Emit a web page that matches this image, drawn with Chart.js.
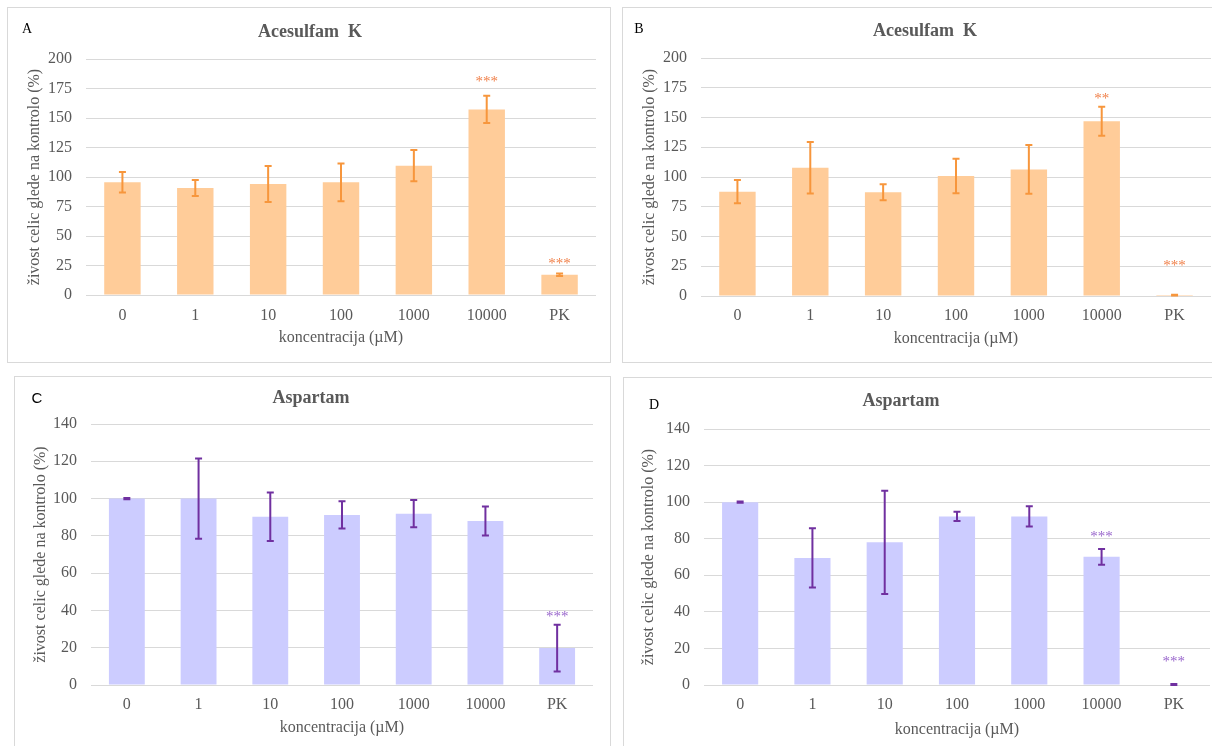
<!DOCTYPE html>
<html>
<head>
<meta charset="utf-8">
<script src="https://cdn.jsdelivr.net/npm/chart.js@4"></script>
<style>
  html, body { margin: 0; padding: 0; background: #fff; overflow: hidden; }
  body { width: 1212px; height: 746px; position: relative; }
  .panel { position: absolute; box-sizing: border-box; border: 1px solid #d9d9d9; background: #fff; }
  .panel canvas { position: absolute; left: 0; top: 0; }
</style>
</head>
<body>
<div class="panel" style="left:7px;top:7px;width:604px;height:356px"><canvas id="chartA" width="602" height="354"></canvas></div>
<div class="panel" style="left:622px;top:7px;width:594px;height:356px"><canvas id="chartB" width="592" height="354"></canvas></div>
<div class="panel" style="left:14px;top:376px;width:597px;height:372px"><canvas id="chartC" width="595" height="370"></canvas></div>
<div class="panel" style="left:623px;top:377px;width:592px;height:372px"><canvas id="chartD" width="590" height="370"></canvas></div>
<script>
// concentrations on the x axis
const categories = ['0', '1', '10', '100', '1000', '10000', 'PK'];

// Acesulfam K, panel A
const valuesA = [95.5, 90.7, 94.1, 95.5, 109.6, 157.3, 17.2];
const errorsA = [8.7, 6.8, 15.2, 16.0, 13.3, 11.5, 1.1];
const starsA = ['', '', '', '', '', '***', '***'];
const starPosA = [null, null, null, null, null, 183, 29];

// Acesulfam K, panel B
const valuesB = [87.7, 107.8, 87.2, 100.8, 106.4, 146.9, 0.8];
const errorsB = [9.8, 21.6, 6.7, 14.5, 20.5, 12.2, 0.3];
const starsB = ['', '', '', '', '', '**', '***'];
const starPosB = [null, null, null, null, null, 168, 28];

// Aspartam, panel C
const valuesC = [100, 100, 90.3, 91.2, 91.9, 88.0, 19.8];
const errorsC = [0.3, 21.5, 13.0, 7.3, 7.3, 7.8, 12.5];
const starsC = ['', '', '', '', '', '', '***'];
const starPosC = [null, null, null, null, null, null, 38];

// Aspartam, panel D
const valuesD = [100, 69.5, 78.0, 92.2, 92.2, 70.1, 0.3];
const errorsD = [0.3, 16.2, 28.2, 2.5, 5.5, 4.3, 0.3];
const starsD = ['', '', '', '', '', '***', '***'];
const starPosD = [null, null, null, null, null, 82.7, 14.2];

const yTicksAcesulfam = { max: 200, step: 25 };
const yTicksAspartam = { max: 140, step: 20 };

const orange = { bar: '#FFCC99', err: '#F7963C', star: '#F0804A' };
const purple = { bar: '#CCCCFF', err: '#7030A0', star: '#9966CC' };

const serif = "'Liberation Serif', 'Times New Roman', serif";
const grey = '#595959';

function makePanel(id, values, errors, stars, starPos, yTicks, colors, g) {
    const ctx = document.getElementById(id).getContext('2d');

    const panelText = {
        id: 'panelText',
        afterDraw(chart) {
            const c = chart.ctx;
            c.save();
            c.textAlign = 'center';
            c.textBaseline = 'middle';
            c.fillStyle = '#000';
            c.font = g.letterFont;
            c.fillText(g.letter, g.letterX, g.letterY);
            c.fillStyle = grey;
            c.font = 'bold 18px ' + serif;
            c.fillText(g.title, g.titleX, g.titleY);
            c.restore();
        }
    };

    const errorBars = {
        id: 'errorBars',
        afterDatasetsDraw(chart) {
            const c = chart.ctx;
            const y = chart.scales.y;
            const meta = chart.getDatasetMeta(0);
            c.save();
            c.strokeStyle = colors.err;
            c.lineWidth = 2;
            meta.data.forEach((bar, i) => {
                const top = y.getPixelForValue(values[i] + errors[i]);
                const bot = y.getPixelForValue(Math.max(values[i] - errors[i], 0));
                c.beginPath();
                c.moveTo(bar.x, top); c.lineTo(bar.x, bot);
                c.moveTo(bar.x - 3.5, top); c.lineTo(bar.x + 3.5, top);
                c.moveTo(bar.x - 3.5, bot); c.lineTo(bar.x + 3.5, bot);
                c.stroke();
            });
            // significance marks
            c.fillStyle = colors.star;
            c.font = '15px ' + serif;
            c.textAlign = 'center';
            c.textBaseline = 'middle';
            meta.data.forEach((bar, i) => {
                if (stars[i]) c.fillText(stars[i], bar.x, y.getPixelForValue(starPos[i]) + 3);
            });
            c.restore();
        }
    };

    return new Chart(ctx, {
        type: 'bar',
        data: {
            labels: categories,
            datasets: [{
                data: values,
                backgroundColor: colors.bar,
                borderWidth: 0,
                categoryPercentage: 1,
                barPercentage: 0.5
            }]
        },
        options: {
            responsive: false,
            animation: false,
            layout: { padding: { left: 0, right: g.right, top: g.top, bottom: 0 } },
            plugins: {
                legend: { display: false },
                title: { display: false },
                tooltip: { enabled: false }
            },
            scales: {
                x: {
                    grid: { display: false },
                    border: { display: false },
                    ticks: { color: grey, font: { family: serif, size: 16 }, padding: g.xTickPad },
                    title: {
                        display: true,
                        text: 'koncentracija (µM)',
                        color: grey,
                        font: { family: serif, size: 16 },
                        padding: { top: 0, bottom: g.xTitlePad }
                    },
                    afterFit: (scale) => { scale.height = g.xHeight; }
                },
                y: {
                    min: 0,
                    max: yTicks.max,
                    grid: { color: '#d9d9d9', lineWidth: 1, drawTicks: false },
                    border: { display: false },
                    ticks: { stepSize: yTicks.step, color: grey, font: { family: serif, size: 16 }, padding: 14 },
                    title: {
                        display: true,
                        text: 'živost celic glede na kontrolo (%)',
                        color: grey,
                        font: { family: serif, size: 16 },
                        padding: { top: g.yTitlePad, bottom: 0 }
                    },
                    afterFit: (scale) => { scale.width = g.yWidth; }
                }
            }
        },
        plugins: [errorBars, panelText]
    });
}

makePanel('chartA', valuesA, errorsA, starsA, starPosA, yTicksAcesulfam, orange, {
    letter: 'A', letterX: 19, letterY: 21, letterFont: '14px ' + serif,
    title: 'Acesulfam  K', titleX: 302, titleY: 24,
    top: 51, right: 14, yWidth: 78, yTitlePad: 17,
    xHeight: 67, xTickPad: 3, xTitlePad: 15
});

makePanel('chartB', valuesB, errorsB, starsB, starPosB, yTicksAcesulfam, orange, {
    letter: 'B', letterX: 16, letterY: 21, letterFont: '14px ' + serif,
    title: 'Acesulfam  K', titleX: 302, titleY: 23,
    top: 50, right: 4, yWidth: 78, yTitlePad: 17,
    xHeight: 66, xTickPad: 2, xTitlePad: 14
});

makePanel('chartC', valuesC, errorsC, starsC, starPosC, yTicksAspartam, purple, {
    letter: 'C', letterX: 22, letterY: 22, letterFont: '15px "Liberation Sans", Arial, sans-serif',
    title: 'Aspartam', titleX: 296, titleY: 21,
    top: 47, right: 17, yWidth: 76, yTitlePad: 16,
    xHeight: 62, xTickPad: 2, xTitlePad: 10
});

makePanel('chartD', valuesD, errorsD, starsD, starPosD, yTicksAspartam, purple, {
    letter: 'D', letterX: 30, letterY: 27, letterFont: '14px ' + serif,
    title: 'Aspartam', titleX: 277, titleY: 23,
    top: 51, right: 4, yWidth: 80, yTitlePad: 15,
    xHeight: 63, xTickPad: 2, xTitlePad: 9
});
</script>
</body>
</html>
